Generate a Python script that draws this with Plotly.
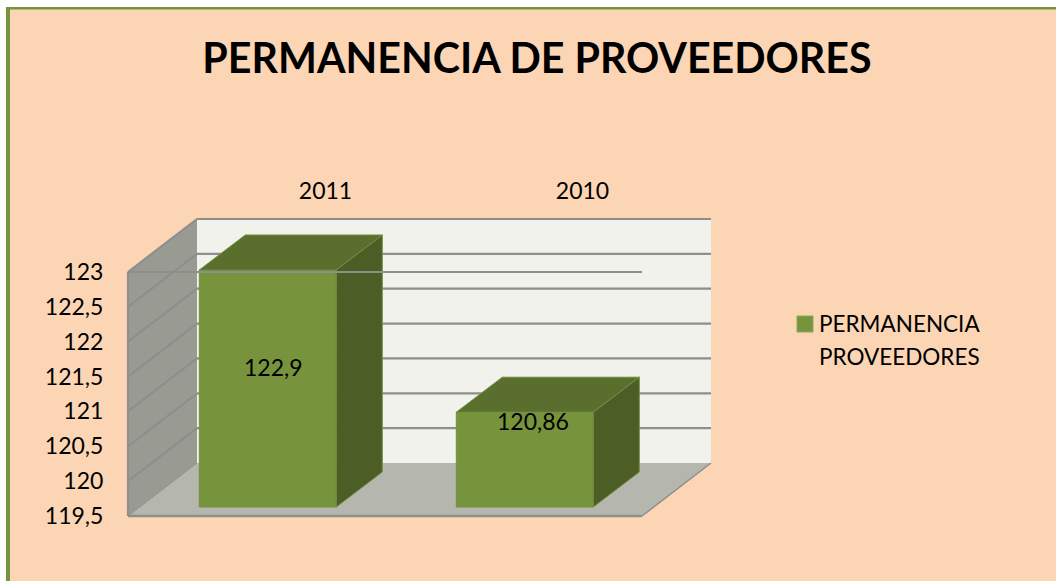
import plotly.graph_objects as go

# ---- data ----
categories = ["2011", "2010"]
values = [122.9, 120.86]
series_lines = ["PERMANENCIA", "PROVEEDORES"]
tick_values = [119.5, 120, 120.5, 121, 121.5, 122, 122.5, 123]
tick_labels = ["119,5", "120", "120,5", "121", "121,5", "122", "122,5", "123"]
title_text = "PERMANENCIA DE PROVEEDORES"

# ---- geometry (pixels of the page and oblique projection) ----
W, H = 1056, 581
FONT = "Lato"
BOTTOM, TOP = tick_values[0], tick_values[-1]
PX_PER_X = 257.0
PX_PER_Y = 244.0 / (TOP - BOTTOM)
X0_PX, Y0_PX = 128.0, 516.0          # x=-0.5 and y=119.5 on the front plane
DOM_L, DOM_R, DOM_T, DOM_B = 116, 724, 213, 528
WALL_DX, WALL_DY = 69 / PX_PER_X, 53 / PX_PER_Y
BAR_DX, BAR_DY = 46 / PX_PER_X, 35 / PX_PER_Y
BAR_OX, BAR_OY = 0.044, 9 / PX_PER_Y
BAR_W = 137 / PX_PER_X

x_range = [-0.5 + (DOM_L - X0_PX) / PX_PER_X, -0.5 + (DOM_R - X0_PX) / PX_PER_X]
y_range = [BOTTOM + (Y0_PX - DOM_B) / PX_PER_Y, BOTTOM + (Y0_PX - DOM_T) / PX_PER_Y]
XL, XR = -0.5, 1.5

C_BG, C_FRAME = "#FCD5B5", "#77933C"
C_FRONT, C_TOP, C_SIDE = "#77933C", "#5A6E2D", "#4C5D25"
C_EDGE = "#71903F"
C_BACK, C_LEFT, C_FLOOR = "#F0F2EB", "#999B93", "#B5B7AF"
C_GRID = "#8E8E8E"


def px_x(p):
    return p / W


def px_y(p):
    return 1 - p / H


def poly(pts):
    return "M " + " L ".join(f"{x},{y}" for x, y in pts) + " Z"


shapes = [
    dict(type="rect", xref="paper", yref="paper", x0=px_x(6), x1=1.01, y0=-0.01, y1=px_y(7),
         fillcolor=C_BG, line_width=0, layer="below"),
    dict(type="rect", xref="paper", yref="paper", x0=px_x(6), x1=px_x(10), y0=-0.01, y1=px_y(7),
         fillcolor=C_FRAME, line_width=0, layer="below"),
    dict(type="rect", xref="paper", yref="paper", x0=px_x(6), x1=1.01, y0=px_y(9.5), y1=px_y(7),
         fillcolor=C_FRAME, line_width=0, layer="below"),
    # legend key
    dict(type="rect", xref="paper", yref="paper", x0=px_x(797), x1=px_x(813), y0=px_y(332), y1=px_y(316),
         fillcolor=C_FRONT, line=dict(color="#8FA85F", width=1), layer="above"),
]


def area(pts, fill, line=None, w=0):
    shapes.append(dict(type="path", xref="x", yref="y", path=poly(pts), fillcolor=fill,
                       line=dict(color=line or fill, width=w), layer="below"))


def seg(pts, color=C_GRID, w=2.2):
    for a, b in zip(pts[:-1], pts[1:]):
        shapes.append(dict(type="line", xref="x", yref="y", x0=a[0], y0=a[1], x1=b[0], y1=b[1],
                           line=dict(color=color, width=w), layer="below"))


area([(XL + WALL_DX, BOTTOM + WALL_DY), (XR + WALL_DX, BOTTOM + WALL_DY),
      (XR + WALL_DX, TOP + WALL_DY), (XL + WALL_DX, TOP + WALL_DY)], C_BACK)
area([(XL, BOTTOM), (XL + WALL_DX, BOTTOM + WALL_DY), (XL + WALL_DX, TOP + WALL_DY), (XL, TOP)], C_LEFT)
area([(XL, BOTTOM), (XR, BOTTOM), (XR + WALL_DX, BOTTOM + WALL_DY), (XL + WALL_DX, BOTTOM + WALL_DY)], C_FLOOR)

for v in tick_values[1:]:
    seg([(XL, v), (XL + WALL_DX, v + WALL_DY), (XR + WALL_DX, v + WALL_DY)])
seg([(XL, BOTTOM), (XL, TOP)])
seg([(XL, BOTTOM), (XR, BOTTOM)], w=2.5)
seg([(XL, BOTTOM), (XL + WALL_DX, BOTTOM + WALL_DY)], w=1)
seg([(XR, BOTTOM), (XR + WALL_DX, BOTTOM + WALL_DY)], w=1.5)

fig = go.Figure()
positions = list(range(len(categories)))
centers = [p + BAR_OX for p in positions]

fig.add_bar(x=centers, y=[v - BOTTOM for v in values], base=[BOTTOM + BAR_OY] * len(values),
            width=BAR_W, marker=dict(color=C_FRONT, line=dict(color=C_EDGE, width=1)),
            showlegend=False, hoverinfo="skip")

for c, v in zip(centers, values):
    xl, xr = c - BAR_W / 2, c + BAR_W / 2
    top, base = v + BAR_OY, BOTTOM + BAR_OY
    fig.add_scatter(x=[xl, xr, xr + BAR_DX, xl + BAR_DX, xl],
                    y=[top, top, top + BAR_DY, top + BAR_DY, top],
                    mode="lines", fill="toself", fillcolor=C_TOP,
                    line=dict(color=C_EDGE, width=1), showlegend=False, hoverinfo="skip")
    fig.add_scatter(x=[xr, xr, xr + BAR_DX, xr + BAR_DX, xr],
                    y=[base, top, top + BAR_DY, base + BAR_DY, base],
                    mode="lines", fill="toself", fillcolor=C_SIDE,
                    line=dict(color=C_EDGE, width=1), showlegend=False, hoverinfo="skip")

# front line at the top tick, which in the reference runs across the first bar
fig.add_scatter(x=[XL, XR], y=[TOP, TOP], mode="lines", line=dict(color=C_GRID, width=2),
                showlegend=False, hoverinfo="skip")

label_pos = [(273, 367), (533, 421)]
annotations = [
    dict(text=str(v).replace(".", ","), xref="paper", yref="paper", x=px_x(p[0]), y=px_y(p[1]),
         xanchor="center", yanchor="middle", showarrow=False, font=dict(family=FONT, size=23, color="#000"))
    for v, p in zip(values, label_pos)
]
for line, py in zip(series_lines, [323, 356]):
    annotations.append(dict(text=line, xref="paper", yref="paper", x=px_x(817), y=px_y(py),
                            xanchor="left", yanchor="middle", showarrow=False,
                            font=dict(family=FONT, size=22.5, color="#000")))

fig.update_layout(
    width=W, height=H, margin=dict(l=0, r=0, t=0, b=0, autoexpand=False),
    paper_bgcolor="#FFFFFF", plot_bgcolor="rgba(0,0,0,0)",
    font=dict(family=FONT, size=23, color="#000000"),
    title=dict(text=f"<b>{title_text}</b>", x=537 / W, xanchor="center", xref="paper",
               y=px_y(59), yanchor="middle", yref="container",
               font=dict(family=FONT, size=41.2, color="#000000")),
    shapes=shapes, annotations=annotations,
    barmode="overlay",
    xaxis=dict(domain=[px_x(DOM_L), px_x(DOM_R)], range=x_range, side="top", showgrid=False,
               zeroline=False, showline=False, tickmode="array",
               tickvals=[p + WALL_DX for p in positions], ticktext=categories,
               ticks="outside", ticklen=4, tickcolor="rgba(0,0,0,0)",
               tickfont=dict(family=FONT, size=23)),
    yaxis=dict(domain=[px_y(DOM_B), px_y(DOM_T)], range=y_range, showgrid=False,
               zeroline=False, showline=False, tickmode="array",
               tickvals=tick_values, ticktext=tick_labels,
               ticks="outside", ticklen=7, tickcolor="rgba(0,0,0,0)",
               tickfont=dict(family=FONT, size=23)),
    showlegend=False,
)

fig.write_html("out.html", config=dict(displayModeBar=False),
               post_script="document.body.style.margin='0';")
